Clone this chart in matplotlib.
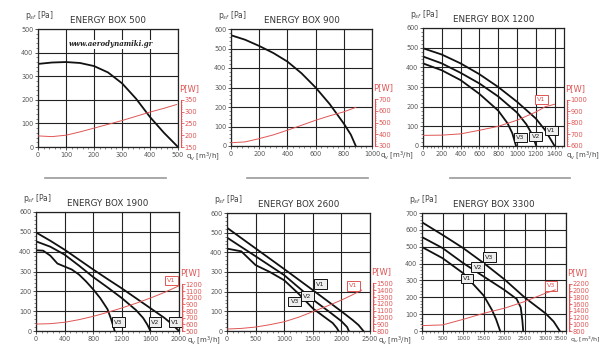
import numpy as np
import matplotlib
matplotlib.use("Agg")
import matplotlib.pyplot as plt
from matplotlib.lines import Line2D
from matplotlib.ticker import MultipleLocator, AutoMinorLocator, FixedLocator

RED = "#e05555"

# ENERGY BOX 500
eb500_q = [0, 50, 100, 150, 200, 250, 300, 350, 400, 450, 500]
eb500_p = [352, 358, 360, 356, 343, 316, 270, 205, 127, 60, 0]
eb500_pw_q = [0, 50, 100, 150, 200, 250, 300, 350, 400, 450, 495]
eb500_pw = [197, 194, 200, 214, 230, 246, 262, 280, 298, 314, 330]

# ENERGY BOX 900
eb900_q = [0, 100, 200, 300, 400, 500, 600, 700, 800, 850, 885]
eb900_p = [568, 545, 513, 477, 433, 373, 300, 215, 115, 58, 0]
eb900_pw_q = [0, 100, 200, 300, 400, 500, 600, 700, 800, 885]
eb900_pw = [328, 335, 363, 395, 435, 477, 520, 558, 592, 630]

# ENERGY BOX 1200
eb1200_v1_q = [0, 200, 400, 600, 800, 1000, 1200, 1300, 1400]
eb1200_v1_p = [497, 465, 420, 365, 300, 225, 140, 80, 0]
eb1200_v2_q = [0, 200, 400, 600, 800, 1000, 1100, 1160, 1205]
eb1200_v2_p = [455, 420, 372, 318, 252, 170, 110, 60, 0]
eb1200_v3_q = [0, 200, 400, 600, 800, 900, 950, 990]
eb1200_v3_p = [420, 385, 335, 265, 180, 115, 65, 0]
eb1200_pw_q = [0, 200, 400, 600, 800, 1000, 1200, 1300, 1400]
eb1200_pw = [692, 694, 705, 736, 770, 823, 894, 940, 961]

# ENERGY BOX 1900
eb1900_v1_q = [0, 200, 400, 600, 800, 1000, 1200, 1400, 1600, 1800, 1900, 2000]
eb1900_v1_p = [497, 455, 410, 360, 310, 262, 215, 165, 115, 65, 35, 0]
eb1900_v2_q = [0, 200, 400, 600, 800, 1000, 1200, 1400, 1500, 1560, 1600]
eb1900_v2_p = [452, 425, 385, 330, 272, 220, 166, 105, 65, 30, 0]
eb1900_v3_q = [0, 100, 200, 300, 400, 500, 600, 700, 800, 900, 1000, 1050, 1080, 1100]
eb1900_v3_p = [407, 405, 380, 340, 325, 310, 285, 250, 210, 165, 110, 60, 25, 0]
eb1900_pw_q = [0, 200, 400, 600, 800, 1000, 1200, 1400, 1600, 1800, 2000]
eb1900_pw = [604, 610, 631, 670, 720, 780, 846, 917, 995, 1081, 1179]

# ENERGY BOX 2600
eb2600_v1_q = [0, 500, 1000, 1500, 2000, 2200, 2300, 2385]
eb2600_v1_p = [525, 420, 315, 208, 100, 55, 30, 0]
eb2600_v2_q = [0, 500, 1000, 1500, 1800, 2000, 2100, 2130]
eb2600_v2_p = [475, 380, 284, 160, 95, 50, 20, 0]
eb2600_v3_q = [0, 250, 500, 750, 1000, 1250, 1500, 1700, 1850, 1920, 1950]
eb2600_v3_p = [419, 405, 335, 300, 258, 190, 115, 72, 40, 15, 0]
eb2600_pw_q = [0, 250, 500, 750, 1000, 1250, 1500, 1750, 2000, 2200, 2355]
eb2600_pw = [829, 838, 858, 893, 936, 1002, 1084, 1167, 1254, 1335, 1402]

# ENERGY BOX 3300
eb3300_v1_q = [0, 500, 1000, 1500, 1700, 1800, 1850, 1900]
eb3300_v1_p = [498, 432, 343, 210, 125, 70, 35, 0]
eb3300_v2_q = [0, 500, 1000, 1500, 2000, 2300, 2400, 2440, 2460]
eb3300_v2_p = [557, 492, 403, 323, 244, 190, 140, 60, 0]
eb3300_v3_q = [0, 500, 1000, 1500, 2000, 2500, 3000, 3200, 3350]
eb3300_v3_p = [645, 570, 492, 403, 307, 198, 105, 56, 0]
eb3300_pw_q = [0, 500, 1000, 1500, 2000, 2500, 3000, 3240]
eb3300_pw = [960, 980, 1145, 1325, 1475, 1675, 1920, 2020]


def px_rect(l, r, t, b):
    return [l / 600, 1 - b / 357, (r - l) / 600, (b - t) / 357]


def draw_panel(fig, rect, title, xmax, xstep, ymax, curves, pw_q, pw,
               w_ticks, w_span, labels=(), red_label=None, watermark=False,
               qlabel_off=6, qlabel_size=5.0, xtick_size=4.7,
               last_tick_right=False):
    ax = fig.add_axes(rect)
    ax.set_xlim(0, xmax)
    ax.set_ylim(0, ymax)
    xticks = np.arange(0, xmax + 1, xstep)
    ax.set_xticks(xticks)
    ax.yaxis.set_major_locator(MultipleLocator(100))
    ax.xaxis.set_minor_locator(AutoMinorLocator(5))
    ax.yaxis.set_minor_locator(AutoMinorLocator(5))
    ax.grid(True, which="major", color="#222222", lw=0.8)
    for s in ax.spines.values():
        s.set_linewidth(0.9)
        s.set_color("#222222")
    ax.tick_params(labelsize=4.7, length=2, width=0.6, pad=1.5,
                   labelcolor="#555555", color="#333333")
    ax.tick_params(axis="x", labelsize=xtick_size)
    ax.tick_params(which="minor", length=1.2, width=0.5, color="#555555")
    if last_tick_right:
        # last label nudged so it clears its neighbour and the unit label
        names = [str(int(v)) for v in xticks]
        ax.set_xticklabels(names[:-1] + [""])
        ax.annotate(names[-1], xy=(1, 0), xycoords="axes fraction",
                    xytext=(1.5, -3.5), textcoords="offset points",
                    fontsize=xtick_size, color="#555555",
                    ha="right", va="top")

    for q, p in curves:
        ax.plot(q, p, color="#111111", lw=1.3)

    ax.set_title(title, fontsize=6.3, color="#333333", pad=4)
    ax.text(-0.09, 1.06, r"p$_{sf}$ [Pa]", transform=ax.transAxes,
            fontsize=5.5, color="#444444", ha="left", va="bottom")
    ax.annotate(r"q$_v$ [m$^3$/h]", xy=(1, 0), xycoords="axes fraction",
                xytext=(qlabel_off, -2.5), textcoords="offset points",
                fontsize=qlabel_size, color="#444444", ha="left", va="top")

    for txt, q, p in labels:
        ax.text(q, p, txt, fontsize=4.6, ha="center", va="center",
                color="#222222", zorder=5,
                bbox=dict(boxstyle="square,pad=0.35", fc="#eeeeee",
                          ec="#111111", lw=0.7))
    if red_label is not None:
        txt, q, p = red_label
        ax.text(q, p, txt, fontsize=4.6, ha="center", va="center",
                color=RED, zorder=5,
                bbox=dict(boxstyle="square,pad=0.35", fc="white",
                          ec=RED, lw=0.7))

    if watermark:
        ax.text(0.52, 0.87, "www.aerodynamiki.gr", transform=ax.transAxes,
                ha="center", va="center", fontsize=5, style="italic",
                weight="bold", family="DejaVu Serif", color="#222222",
                bbox=dict(fc="white", ec="none", pad=0.5))

    # power axis on the right, only covering the lower part
    tw = ax.twinx()
    k = (w_ticks[-1] - w_ticks[0]) / w_span
    tw.set_ylim(w_ticks[0], w_ticks[0] + k * ymax)
    tw.yaxis.set_major_locator(FixedLocator(w_ticks))
    step = w_ticks[1] - w_ticks[0]
    tw.yaxis.set_minor_locator(
        FixedLocator(np.arange(w_ticks[0], w_ticks[-1] + 1e-6, step / 5)))
    for name in ("top", "left", "bottom"):
        tw.spines[name].set_visible(False)
    tw.spines["right"].set_bounds(w_ticks[0], w_ticks[-1])
    tw.spines["right"].set_position(("outward", 2))
    tw.spines["right"].set_color(RED)
    tw.spines["right"].set_linewidth(0.8)
    tw.tick_params(labelsize=4.8, length=1.8, width=0.6, pad=1,
                   colors=RED)
    tw.tick_params(which="minor", length=1.0, width=0.5, colors=RED)
    tw.plot(pw_q, pw, color=RED, lw=0.7)
    tw.annotate("P[W]", xy=(1, w_ticks[-1]), xycoords=("axes fraction", "data"),
                xytext=(1, 5), textcoords="offset points", fontsize=6,
                color=RED, ha="left", va="bottom")
    return ax


plt.rcParams["font.family"] = ["Liberation Sans Narrow", "DejaVu Sans"]
fig = plt.figure(figsize=(6, 3.57), dpi=100)

draw_panel(fig, px_rect(38, 178, 29, 147), "ENERGY BOX 500", 500, 100, 500,
           [(eb500_q, eb500_p)], eb500_pw_q, eb500_pw,
           [150, 200, 250, 300, 350], 200, watermark=True)

draw_panel(fig, px_rect(231, 372, 29, 146), "ENERGY BOX 900", 1000, 200, 600,
           [(eb900_q, eb900_p)], eb900_pw_q, eb900_pw,
           [300, 400, 500, 600, 700], 240)

draw_panel(fig, px_rect(423, 564, 28, 146), "ENERGY BOX 1200", 1500, 200, 600,
           [(eb1200_v1_q, eb1200_v1_p), (eb1200_v2_q, eb1200_v2_p),
            (eb1200_v3_q, eb1200_v3_p)],
           eb1200_pw_q, eb1200_pw, [600, 700, 800, 900, 1000], 235,
           labels=[("V3", 1035, 43), ("V2", 1199, 49), ("V1", 1365, 80)],
           red_label=("V1", 1259, 236), qlabel_off=1.5)

draw_panel(fig, px_rect(36, 179, 212, 331), "ENERGY BOX 1900", 2000, 400, 600,
           [(eb1900_v1_q, eb1900_v1_p), (eb1900_v2_q, eb1900_v2_p),
            (eb1900_v3_q, eb1900_v3_p)],
           eb1900_pw_q, eb1900_pw, list(range(500, 1201, 100)), 235,
           labels=[("V3", 1155, 45), ("V2", 1664, 45), ("V1", 1950, 45)],
           red_label=("V1", 1896, 254))

draw_panel(fig, px_rect(227, 370, 213, 331), "ENERGY BOX 2600", 2500, 500, 600,
           [(eb2600_v1_q, eb2600_v1_p), (eb2600_v2_q, eb2600_v2_p),
            (eb2600_v3_q, eb2600_v3_p)],
           eb2600_pw_q, eb2600_pw, list(range(800, 1501, 100)), 242,
           labels=[("V1", 1636, 238), ("V2", 1402, 177), ("V3", 1186, 149)],
           red_label=("V1", 2214, 230))

draw_panel(fig, px_rect(422, 566, 213, 331), "ENERGY BOX 3300", 3500, 500, 700,
           [(eb3300_v1_q, eb3300_v1_p), (eb3300_v2_q, eb3300_v2_p),
            (eb3300_v3_q, eb3300_v3_p)],
           eb3300_pw_q, eb3300_pw, list(range(800, 2201, 200)), 280,
           labels=[("V3", 1637, 438), ("V2", 1353, 379), ("V1", 1094, 313)],
           red_label=("V3", 3136, 268), qlabel_off=3, qlabel_size=4.5,
           xtick_size=4.0, last_tick_right=True)

# separator lines under the top row
for x0, x1 in [(45, 166), (247, 368), (450, 570)]:
    fig.add_artist(Line2D([x0 / 600, x1 / 600], [1 - 178 / 357] * 2,
                          color="#999999", lw=1.2))

fig.savefig("out.png", dpi=100, facecolor="white")
